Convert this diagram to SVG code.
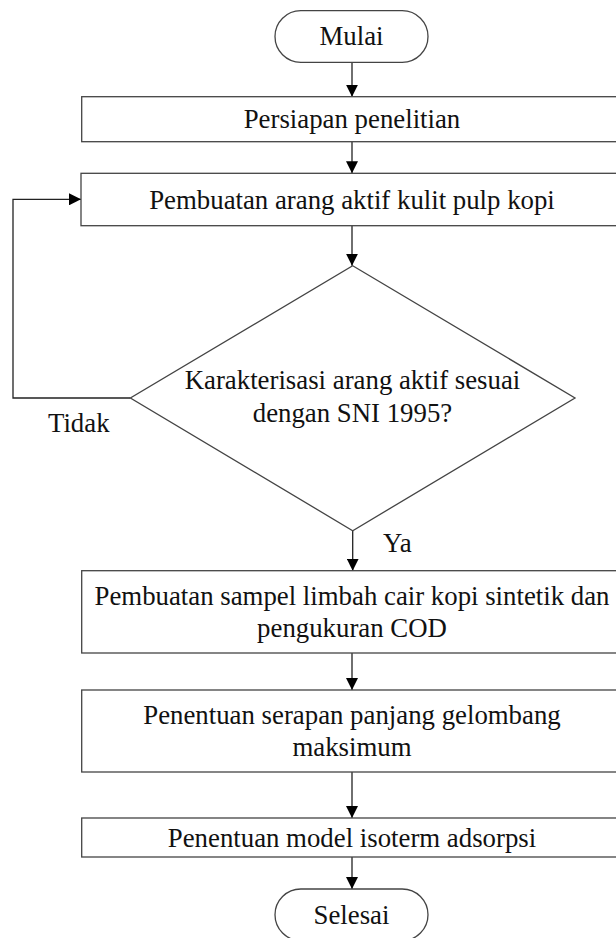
<svg xmlns="http://www.w3.org/2000/svg" width="616" height="938" viewBox="0 0 616 938">
<defs>
<style>
.box{fill:#ffffff;stroke:#444;stroke-width:1.3}
.ln{fill:none;stroke:#222;stroke-width:1.3}
text{font-family:"Liberation Serif","Times New Roman",serif;font-size:26.8px;fill:#111}
.c{text-anchor:middle}
</style>
<marker id="ah" viewBox="0 0 12 12" refX="12" refY="6" markerWidth="12" markerHeight="12" markerUnits="userSpaceOnUse" orient="auto">
<path d="M0,0 L12,6 L0,12 Z" fill="#000"/>
</marker>
</defs>
<rect width="616" height="938" fill="#ffffff"/>
<g id="connectors">
<line class="ln" x1="352" y1="62.3" x2="352" y2="96.7" marker-end="url(#ah)"/>
<line class="ln" x1="352" y1="141.7" x2="352" y2="173.3" marker-end="url(#ah)"/>
<line class="ln" x1="352" y1="225.7" x2="352" y2="265.7" marker-end="url(#ah)"/>
<polyline class="ln" points="130.4,398 13,398 13,199.3 81,199.3" marker-end="url(#ah)"/>
<line class="ln" x1="352.7" y1="530.7" x2="352.7" y2="570.7" marker-end="url(#ah)"/>
<line class="ln" x1="352" y1="653" x2="352" y2="690" marker-end="url(#ah)"/>
<line class="ln" x1="352" y1="772" x2="352" y2="818" marker-end="url(#ah)"/>
<line class="ln" x1="352" y1="857" x2="352" y2="889" marker-end="url(#ah)"/>
<text x="48" y="432">Tidak</text>
<text x="383" y="552">Ya</text>
</g>
<g id="mulai">
<rect class="box" x="275" y="10.7" width="153" height="51.6" rx="25.8" ry="25.8"/>
<text class="c" x="351.5" y="45">Mulai</text>
</g>
<g id="persiapan">
<rect class="box" x="81.7" y="96.7" width="545" height="45"/>
<text class="c" x="352" y="128">Persiapan penelitian</text>
</g>
<g id="pembuatan-arang">
<rect class="box" x="81" y="173.3" width="545" height="52.4"/>
<text class="c" x="352" y="208.5">Pembuatan arang aktif kulit pulp kopi</text>
</g>
<g id="karakterisasi">
<polygon class="box" points="352.7,265.7 575,398 352.7,530.7 130.4,398"/>
<text class="c" x="352.5" y="389">Karakterisasi arang aktif sesuai</text>
<text class="c" x="352.5" y="422">dengan SNI 1995?</text>
</g>
<g id="sampel">
<rect class="box" x="81.7" y="570.7" width="545" height="82.3"/>
<text class="c" x="352" y="605">Pembuatan sampel limbah cair kopi sintetik dan</text>
<text class="c" x="352" y="637">pengukuran COD</text>
</g>
<g id="serapan">
<rect class="box" x="81.7" y="690" width="545" height="82"/>
<text class="c" x="352" y="724">Penentuan serapan panjang gelombang</text>
<text class="c" x="352" y="756">maksimum</text>
</g>
<g id="isoterm">
<rect class="box" x="81.7" y="818" width="545" height="39"/>
<text class="c" x="352" y="846.5">Penentuan model isoterm adsorpsi</text>
</g>
<g id="selesai">
<rect class="box" x="275" y="889" width="153" height="51.6" rx="25.8" ry="25.8"/>
<text class="c" x="351.5" y="924">Selesai</text>
</g>
</svg>
